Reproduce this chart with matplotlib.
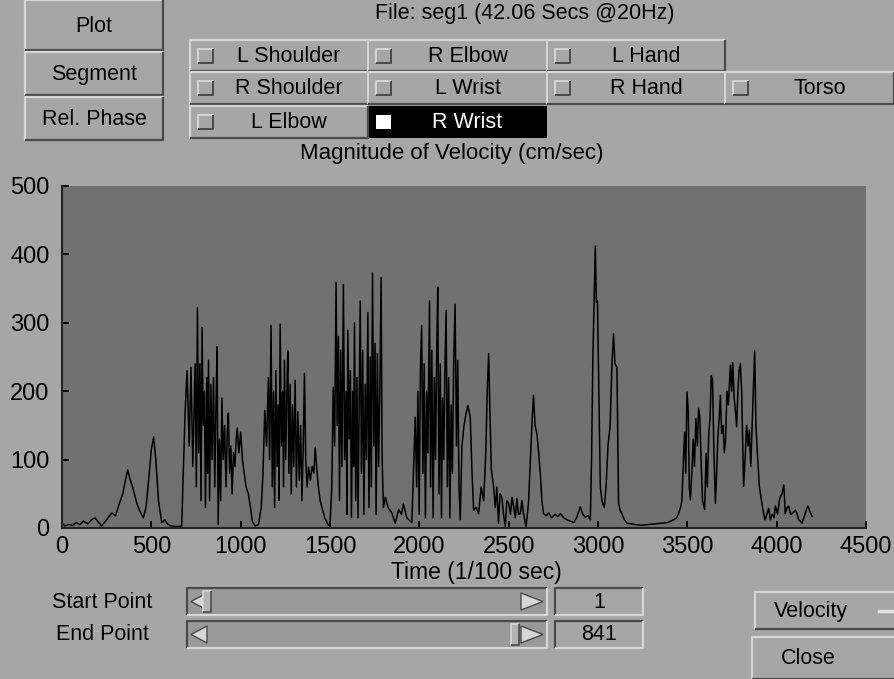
import numpy as np
import matplotlib.pyplot as plt
from matplotlib.patches import Rectangle, Polygon

# ---- velocity trace (time in 1/100 sec, cm/sec) ----
t_quiet = [0, 15, 35, 60, 80, 100, 120, 145, 165, 185, 205, 222, 250, 278, 300, 320, 340,
           355, 368, 380, 395, 410, 420, 435, 455, 470, 485, 500, 513, 525, 540, 558, 575,
           590, 610, 640, 670, 689]
v_quiet = [8, 3, 5, 4, 8, 5, 10, 6, 12, 15, 8, 3, 12, 22, 18, 35, 50,
           70, 85, 72, 60, 45, 35, 25, 15, 30, 70, 115, 133, 100, 40, 8, 12,
           6, 3, 2, 3, 170]

t_burst1 = [700, 712, 722, 732, 745, 752, 758, 765, 772, 778, 784, 790, 797, 803, 810, 815,
            820, 826, 833, 840, 848, 855, 862, 868, 874, 881, 888, 895, 902, 910, 918, 925,
            931, 938, 945, 952, 960, 968, 975, 981, 990, 1000, 1010, 1020, 1030, 1043, 1055,
            1065, 1080]
v_burst1 = [230, 120, 235, 90, 240, 60, 322, 110, 240, 40, 293, 150, 200, 30, 220, 80,
            245, 40, 210, 100, 220, 60, 180, 265, 5, 130, 40, 190, 100, 150, 60, 140,
            168, 80, 120, 50, 110, 90, 130, 146, 110, 140, 100, 80, 60, 50, 30,
            10, 3]

t_burst2 = [1100, 1115, 1125, 1135, 1145, 1155, 1162, 1170, 1177, 1184, 1190, 1197, 1204,
            1210, 1215, 1221, 1228, 1235, 1240, 1245, 1252, 1258, 1264, 1270, 1277, 1283,
            1290, 1297, 1305, 1312, 1320, 1328, 1335, 1343, 1350, 1357, 1364, 1372, 1380,
            1390, 1400, 1410, 1417, 1425, 1435, 1445, 1454, 1470, 1491]
v_burst2 = [5, 30, 80, 172, 120, 220, 100, 296, 60, 200, 30, 230, 90,
            180, 40, 298, 120, 200, 60, 245, 100, 190, 259, 80, 210, 50,
            180, 90, 216, 60, 170, 70, 150, 40, 120, 226, 100, 60, 89,
            70, 90, 80, 118, 90, 60, 40, 31, 15, 4]

t_burst3 = [1500, 1510, 1518, 1526, 1534, 1540, 1547, 1553, 1560, 1567, 1575, 1582, 1590,
            1595, 1600, 1607, 1614, 1620, 1627, 1632, 1637, 1644, 1651, 1657, 1663, 1669,
            1676, 1683, 1690, 1697, 1704, 1712, 1718, 1725, 1731, 1738, 1745, 1752, 1758,
            1765, 1772, 1779, 1786, 1792, 1799, 1810, 1825, 1846, 1865, 1884, 1900, 1911,
            1930, 1958]
v_burst3 = [5, 60, 206, 120, 359, 150, 280, 40, 260, 90, 356, 100, 200,
            20, 289, 130, 230, 15, 200, 90, 300, 40, 220, 15, 180, 332,
            80, 260, 20, 210, 100, 315, 30, 250, 60, 373, 120, 270, 20,
            255, 90, 200, 366, 100, 30, 45, 30, 22, 7, 27, 20, 35,
            15, 8]

t_burst4 = [1977, 1985, 1992, 1999, 2006, 2013, 2020, 2027, 2034, 2041, 2048, 2057, 2063,
            2070, 2077, 2084, 2091, 2097, 2103, 2110, 2117, 2124, 2130, 2137, 2143, 2150,
            2157, 2164, 2171, 2178, 2185, 2192, 2200, 2208, 2215, 2222, 2229, 2238, 2250,
            2260, 2272, 2285, 2295, 2304, 2318, 2332, 2346, 2360, 2372, 2380, 2388, 2396,
            2403, 2416, 2425, 2434, 2443, 2452, 2462, 2471, 2481, 2490, 2500, 2510, 2519,
            2528, 2537, 2546, 2555, 2565, 2574, 2583, 2597, 2611, 2620, 2630, 2639, 2648,
            2658, 2668, 2677, 2686, 2695, 2710, 2725, 2740, 2760, 2775, 2790, 2808, 2826,
            2845, 2864, 2880, 2901, 2915, 2929, 2945, 2957]
v_burst4 = [162, 60, 200, 20, 230, 296, 80, 240, 15, 200, 110, 332, 60,
            260, 15, 220, 100, 250, 352, 50, 240, 15, 190, 100, 230, 318,
            60, 220, 15, 180, 80, 240, 327, 120, 245, 60, 12, 118, 150,
            165, 179, 162, 80, 26, 30, 21, 60, 40, 110, 200, 255, 160,
            85, 60, 30, 60, 7, 50, 45, 20, 2, 40, 36, 20, 45,
            31, 15, 43, 20, 21, 40, 21, 2, 36, 90, 150, 194, 150,
            138, 110, 80, 40, 21, 18, 22, 15, 20, 17, 21, 15, 12,
            10, 8, 15, 31, 20, 16, 18, 12]

t_burst5 = [2964, 2971, 2978, 2985, 2991, 2997, 3005, 3013, 3022, 3035, 3045, 3056, 3068,
            3078, 3087, 3095, 3106, 3115, 3125, 3134, 3148, 3162, 3185, 3209, 3240, 3280,
            3320, 3358]
v_burst5 = [100, 245, 330, 412, 330, 332, 200, 60, 40, 30, 60, 120, 150,
            240, 284, 240, 235, 36, 25, 21, 12, 7, 6, 5, 4, 5,
            6, 7]

t_burst6 = [3390, 3424, 3440, 3451, 3462, 3470, 3478, 3485, 3491, 3498, 3505, 3511, 3517,
            3525, 3533, 3540, 3548, 3556, 3563, 3570, 3578, 3585, 3597, 3605, 3612, 3620,
            3627, 3634, 3641, 3648, 3657, 3664, 3671, 3678, 3685, 3692, 3700, 3707, 3714,
            3722, 3730, 3741, 3748, 3754, 3762, 3769, 3776, 3783, 3790, 3797, 3804, 3810,
            3815, 3823, 3832, 3840, 3847, 3855, 3863, 3870, 3877, 3884, 3892, 3903, 3915,
            3927, 3935, 3945, 3955, 3965, 3975, 3985, 3993, 4005, 4015, 4021, 4030, 4040,
            4048, 4058, 4067, 4078, 4090, 4105, 4115, 4123, 4133, 4142, 4152, 4160, 4168,
            4175, 4185, 4198]
v_burst6 = [8, 12, 15, 21, 30, 41, 100, 140, 80, 199, 172, 60, 41,
            80, 130, 90, 160, 120, 175, 162, 90, 40, 27, 109, 60, 138,
            160, 223, 216, 120, 36, 80, 133, 160, 194, 138, 150, 110, 129,
            200, 180, 238, 200, 242, 190, 172, 148, 200, 230, 240, 200, 120,
            61, 100, 150, 120, 143, 90, 150, 200, 259, 150, 110, 61, 40,
            21, 12, 20, 29, 12, 20, 15, 32, 20, 40, 46, 50, 63,
            21, 30, 32, 20, 22, 26, 20, 12, 10, 7, 15, 21, 28,
            32, 25, 17]

time = np.concatenate([t_quiet, t_burst1, t_burst2, t_burst3, t_burst4, t_burst5, t_burst6])
vel = np.concatenate([v_quiet, v_burst1, v_burst2, v_burst3, v_burst4, v_burst5, v_burst6])

# ---- interface texts ----
file_title = "File: seg1 (42.06 Secs @20Hz)"
plot_title = "Magnitude of Velocity (cm/sec)"
x_label = "Time (1/100 sec)"
side_buttons = ["Plot", "Segment", "Rel. Phase"]
segment_rows = [["L Shoulder", "R Elbow", "L Hand"],
                ["R Shoulder", "L Wrist", "R Hand", "Torso"],
                ["L Elbow", "R Wrist"]]
selected = "R Wrist"
start_point = 1
end_point = 841
n_points = 841
x_ticks = np.arange(0, 4501, 500)
y_ticks = np.arange(0, 501, 100)

BG = '#a6a6a6'
HI = '#d6d6d6'
LO = '#4a4a4a'
UI_FONT = ['Liberation Sans', 'DejaVu Sans']
NARROW = ['DejaVu Sans Condensed', 'Liberation Sans', 'DejaVu Sans']

plt.rcParams['font.family'] = UI_FONT

W, H = 894, 679
fig = plt.figure(figsize=(W / 100, H / 100), dpi=100)
fig.patch.set_facecolor(BG)

# full-figure axes in pixel units for the widgets
ui = fig.add_axes([0, 0, 1, 1], zorder=0)
ui.set_xlim(0, W)
ui.set_ylim(H, 0)
ui.axis('off')


def bevel(x, y, w, h, fill=BG, sunken=False, lw=1.6):
    ui.add_patch(Rectangle((x, y), w, h, facecolor=fill, edgecolor='none'))
    a, b = (LO, HI) if sunken else (HI, LO)
    ui.plot([x, x, x + w], [y + h, y, y], color=a, lw=lw, solid_capstyle='butt')
    ui.plot([x, x + w, x + w], [y + h, y + h, y], color=b, lw=lw, solid_capstyle='butt')


# left side buttons
btn_y = [0, 52, 97]
btn_h = [50, 43, 43]
for name, by, bh in zip(side_buttons, btn_y, btn_h):
    bevel(25, by, 138, bh)
    ui.text(94, by + bh / 2 + 1, name, ha='center', va='center', fontsize=15.5)

ui.text(525, 14, file_title, ha='center', va='center', fontsize=15.5)

# segment check boxes
col_x = [190, 368, 547, 725]
col_w = [178, 179, 178, 169]
row_y = [40, 72, 106]
row_h = [31, 32, 32]
for r, names in enumerate(segment_rows):
    for c, name in enumerate(names):
        x, y, w, h = col_x[c], row_y[r], col_w[c], row_h[r]
        on = name == selected
        if on:
            ui.add_patch(Rectangle((x, y), w, h, facecolor='black', edgecolor='none'))
            ui.add_patch(Rectangle((x + 8, y + 9), 15, 14, facecolor='white', edgecolor='none'))
        else:
            bevel(x, y, w, h)
            bevel(x + 8, y + 9, 15, 14, lw=1.4)
        ui.text(x + w / 2 + 10, y + h / 2 + 1, name, ha='center', va='center',
                fontsize=15.5, color='white' if on else 'black')

ui.text(452, 153, plot_title, ha='center', va='center', fontsize=16)

# ---- the chart ----
ax = fig.add_axes([62 / W, 1 - 528 / H, (866 - 62) / W, (528 - 186) / H], zorder=1)
ax.set_facecolor('#717171')
ax.plot(time, vel, color='black', lw=1.1)
ax.set_xlim(0, 4500)
ax.set_ylim(0, 500)
ax.set_xticks(x_ticks)
ax.set_yticks(y_ticks)
for s in ['top', 'right']:
    ax.spines[s].set_visible(False)
for s in ['left', 'bottom']:
    ax.spines[s].set_linewidth(1.5)
    ax.spines[s].set_color('#222222')
ax.tick_params(axis='both', direction='in', length=5, width=1.3, labelsize=17)
ax.tick_params(axis='x', pad=6)
ax.tick_params(axis='y', pad=9)
for lab in ax.get_xticklabels() + ax.get_yticklabels():
    lab.set_family(NARROW)

ui.text(476, 572, x_label, ha='center', va='center', fontsize=16.5, family=NARROW)

# ---- range sliders ----
sl_x, sl_w = 187, 360
track_l, track_r = sl_x + 20, sl_x + sl_w - 32
rows = [("Start Point", start_point, 588), ("End Point", end_point, 621)]
for label, val, y in rows:
    ui.text(102, y + 14, label, ha='center', va='center', fontsize=15.5, family=NARROW)
    bevel(sl_x, y, sl_w, 27, fill='#999999', sunken=True)
    # arrows
    ui.add_patch(Polygon([[sl_x + 20, y + 5], [sl_x + 20, y + 22], [sl_x + 4, y + 13.5]],
                         facecolor=HI, edgecolor=LO, lw=1))
    ui.add_patch(Polygon([[sl_x + sl_w - 26, y + 5], [sl_x + sl_w - 26, y + 22],
                          [sl_x + sl_w - 4, y + 13.5]], facecolor=HI, edgecolor=LO, lw=1))
    # thumb
    tx = track_l + (val - 1) / (n_points - 1) * (track_r - track_l)
    bevel(tx - 4, y + 3, 8, 21, fill='#b4b4b4', lw=1.2)
    # value box
    bevel(555, y, 88, 27, sunken=True)
    ui.text(599, y + 14, str(val), ha='center', va='center', fontsize=15.5, family=NARROW)

# ---- bottom right buttons ----
bevel(755, 592, 150, 37)
ui.text(811, 611, "Velocity", ha='center', va='center', fontsize=15.5)
ui.plot([879, 894], [611, 611], color='#e0e0e0', lw=2.5)
bevel(752, 637, 150, 42)
ui.text(808, 658, "Close", ha='center', va='center', fontsize=15.5)

fig.savefig("out.png", dpi=100, facecolor=BG)
